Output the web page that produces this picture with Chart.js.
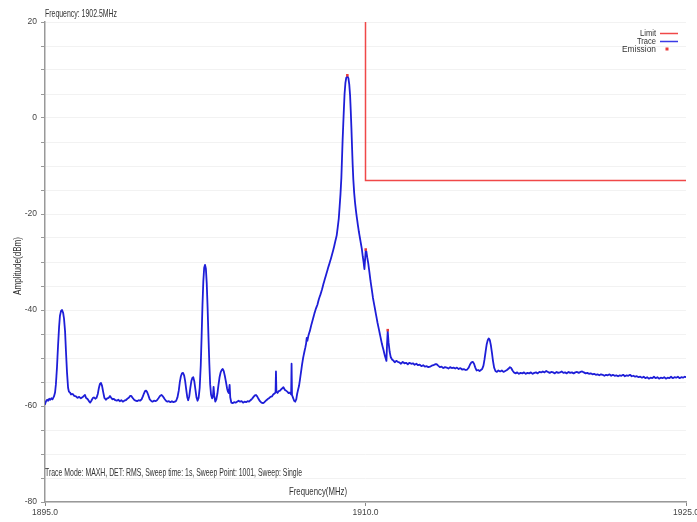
<!DOCTYPE html>
<html>
<head>
<meta charset="utf-8">
<script src="https://cdn.jsdelivr.net/npm/chart.js@4.4.1/dist/chart.umd.min.js"></script>
<style>
html,body{margin:0;padding:0;background:#fff;}
#wrap{width:697px;height:522px;position:relative;}
</style>
</head>
<body>
<div id="wrap"><canvas id="c" width="697" height="522"></canvas></div>
<script>
// ---- data ----
const traceFreq = [
1895.00,1895.05,1895.10,1895.15,1895.20,1895.25,1895.30,1895.35,1895.42,1895.47,1895.51,1895.56,1895.61,1895.66,1895.70,1895.75,1895.80,1895.85,1895.89,1895.94,1895.98,
1896.03,1896.08,1896.12,1896.17,1896.22,1896.30,1896.37,1896.45,1896.52,1896.60,1896.68,1896.75,1896.82,1896.87,1896.92,
1897.00,1897.06,1897.11,1897.17,1897.23,1897.29,1897.35,1897.41,1897.47,1897.52,1897.57,1897.62,1897.67,1897.72,1897.78,1897.85,1897.91,1897.98,
1898.04,1898.10,1898.16,1898.22,1898.29,1898.36,1898.43,1898.50,1898.57,1898.64,1898.71,1898.78,1898.85,1898.92,1898.98,
1899.04,1899.10,1899.17,1899.24,1899.31,1899.38,1899.45,1899.52,1899.58,1899.63,1899.68,1899.73,1899.78,1899.84,1899.90,1899.96,
1900.03,1900.10,1900.17,1900.24,1900.31,1900.38,1900.45,1900.52,1900.59,1900.66,1900.73,1900.80,1900.87,1900.94,
1901.01,1901.08,1901.14,1901.20,1901.26,1901.31,1901.36,1901.41,1901.46,1901.51,1901.56,1901.61,1901.66,1901.70,1901.75,1901.80,1901.85,1901.90,1901.94,1901.99,
1902.04,1902.09,1902.14,1902.19,1902.24,1902.29,1902.33,1902.37,1902.41,1902.45,1902.49,1902.53,1902.57,1902.61,1902.65,1902.69,1902.73,1902.77,1902.82,1902.86,1902.89,1902.92,1902.97,
1903.02,1903.07,1903.12,1903.17,1903.22,1903.27,1903.32,1903.37,1903.42,1903.47,1903.52,1903.56,1903.60,1903.64,1903.67,1903.72,1903.78,1903.85,1903.92,1903.99,
1904.06,1904.13,1904.20,1904.27,1904.34,1904.41,1904.48,1904.55,1904.62,1904.69,1904.76,1904.82,1904.87,1904.93,1904.99,
1905.06,1905.13,1905.20,1905.27,1905.34,1905.41,1905.48,1905.55,1905.62,1905.68,1905.74,1905.79,1905.81,1905.83,1905.88,1905.94,
1906.00,1906.06,1906.11,1906.16,1906.22,1906.28,1906.34,1906.40,1906.46,1906.52,1906.54,1906.56,1906.61,1906.66,1906.71,1906.76,1906.80,1906.85,1906.89,1906.93,1906.98,
1907.03,1907.08,1907.13,1907.18,1907.22,1907.25,1907.28,1907.33,1907.40,1907.47,1907.54,1907.61,1907.68,1907.75,1907.82,1907.89,1907.96,
1908.03,1908.10,1908.18,1908.25,1908.32,1908.38,1908.45,1908.52,1908.58,1908.65,1908.70,1908.75,1908.79,1908.83,1908.87,1908.90,1908.93,1908.96,1908.99,
1909.02,1909.06,1909.10,1909.15,1909.20,1909.24,1909.28,1909.31,1909.34,1909.37,1909.40,1909.43,1909.47,1909.51,1909.55,1909.59,1909.64,1909.69,1909.74,1909.79,1909.83,1909.87,1909.91,1909.95,1909.98,
1910.01,1910.04,1910.08,1910.13,1910.18,1910.23,1910.29,1910.35,1910.42,1910.49,1910.56,1910.63,1910.70,1910.77,1910.84,1910.91,1910.98,
1911.01,1911.04,1911.08,1911.13,1911.18,1911.24,1911.30,1911.37,1911.44,1911.51,1911.58,1911.66,1911.74,1911.82,1911.90,1911.98,
1912.06,1912.14,1912.22,1912.30,1912.38,1912.46,1912.54,1912.62,1912.70,1912.78,1912.86,1912.94,
1913.02,1913.10,1913.18,1913.26,1913.33,1913.40,1913.48,1913.56,1913.64,1913.72,1913.80,1913.88,1913.96,
1914.04,1914.12,1914.20,1914.28,1914.36,1914.44,1914.52,1914.60,1914.68,1914.76,1914.83,1914.90,1914.96,
1915.02,1915.08,1915.14,1915.20,1915.27,1915.34,1915.40,1915.46,1915.52,1915.57,1915.62,1915.67,1915.72,1915.77,1915.82,1915.87,1915.92,1915.97,
1916.02,1916.08,1916.15,1916.22,1916.30,1916.38,1916.46,1916.54,1916.62,1916.70,1916.76,1916.82,1916.88,1916.95,
1917.02,1917.10,1917.18,1917.26,1917.34,1917.42,1917.50,1917.58,1917.66,1917.74,1917.82,1917.90,1917.98,
1918.06,1918.14,1918.22,1918.30,1918.38,1918.46,1918.54,1918.62,1918.70,1918.78,1918.86,1918.94,
1919.02,1919.10,1919.18,1919.26,1919.34,1919.42,1919.50,1919.58,1919.66,1919.74,1919.82,1919.90,1919.98,
1920.06,1920.14,1920.22,1920.30,1920.38,1920.46,1920.54,1920.62,1920.70,1920.78,1920.86,1920.94,
1921.02,1921.10,1921.18,1921.26,1921.34,1921.42,1921.50,1921.58,1921.66,1921.74,1921.82,1921.90,1921.98,
1922.06,1922.14,1922.22,1922.30,1922.38,1922.46,1922.54,1922.62,1922.70,1922.78,1922.86,1922.94,
1923.02,1923.10,1923.18,1923.26,1923.34,1923.42,1923.50,1923.58,1923.66,1923.74,1923.82,1923.90,1923.98,
1924.06,1924.14,1924.22,1924.30,1924.38,1924.46,1924.54,1924.62,1924.70,1924.78,1924.86,1924.94,1925.00
];
const traceAmp = [
-59.6,-59.0,-58.7,-58.9,-58.5,-58.7,-58.4,-58.6,-58.0,-57.2,-55.5,-52.0,-47.5,-43.5,-41.2,-40.2,-40.0,-40.6,-41.8,-44.5,-48.5,
-53.0,-56.2,-57.0,-57.2,-57.6,-57.5,-57.9,-58.0,-58.3,-58.1,-58.4,-58.2,-57.9,-57.7,-58.3,
-58.6,-59.0,-59.3,-58.9,-58.4,-58.2,-58.5,-58.3,-57.5,-56.3,-55.4,-55.2,-55.8,-57.0,-58.3,-58.7,-58.4,-58.3,
-57.9,-58.3,-58.6,-58.5,-58.8,-58.9,-58.7,-59.0,-58.8,-59.1,-58.9,-58.8,-58.5,-58.3,-57.9,
-57.9,-58.3,-58.7,-58.9,-59.0,-58.8,-58.9,-58.6,-58.0,-57.4,-56.9,-56.8,-57.1,-57.8,-58.6,-58.9,
-59.1,-58.9,-59.0,-58.8,-58.4,-57.9,-57.7,-58.0,-58.5,-58.9,-59.1,-59.0,-59.2,-59.0,
-59.2,-59.1,-58.9,-58.2,-56.8,-55.0,-53.8,-53.2,-53.1,-53.6,-54.8,-56.6,-58.2,-58.8,-58.0,-56.3,-54.8,-54.1,-54.0,-54.9,
-56.6,-58.2,-58.9,-58.3,-56.2,-51.5,-45.5,-39.0,-34.0,-31.2,-30.6,-31.4,-34.5,-39.5,-45.5,-51.0,-55.5,-57.6,-58.4,-58.0,-56.0,-57.8,-59.1,
-58.6,-57.4,-55.6,-54.0,-53.0,-52.5,-52.3,-52.8,-53.8,-55.0,-56.3,-57.0,-57.3,-55.6,-58.2,-59.3,-59.4,-59.2,-59.3,-59.1,
-58.9,-59.1,-59.0,-59.3,-59.1,-59.2,-59.0,-59.1,-58.8,-58.5,-58.1,-57.8,-57.7,-58.0,-58.5,
-59.0,-59.3,-59.4,-59.2,-58.9,-58.6,-58.4,-58.1,-58.0,-57.6,-57.4,-57.2,-52.8,-57.0,-57.3,-56.9,
-56.8,-56.5,-56.3,-56.1,-56.6,-56.8,-57.0,-57.3,-57.2,-57.6,-51.2,-57.7,-58.3,-58.9,-59.1,-58.6,-57.5,-56.5,-55.8,-54.6,-53.0,
-51.4,-50.0,-48.9,-47.9,-47.0,-45.8,-46.4,-45.3,-44.3,-43.0,-41.9,-40.7,-39.7,-38.9,-37.7,-36.8,-35.8,
-34.6,-33.5,-32.3,-31.2,-30.2,-29.3,-28.2,-27.0,-25.8,-24.5,-22.8,-20.9,-18.4,-15.8,-12.5,-8.5,-4.5,-1.2,2.0,
5.0,7.3,8.4,8.7,8.3,7.0,4.6,1.5,-2.0,-6.0,-9.8,-12.8,-15.6,-17.6,-19.2,-20.6,-22.2,-23.7,-25.0,-26.3,-27.3,-28.8,-30.0,-31.5,-29.5,
-27.6,-27.8,-29.0,-30.3,-32.0,-33.8,-35.6,-37.5,-39.2,-40.9,-42.6,-44.1,-45.6,-47.1,-48.3,-49.6,-50.6,
-47.0,-44.4,-46.8,-48.7,-49.8,-50.3,-50.5,-50.9,-50.6,-50.8,-50.9,-51.2,-50.8,-51.1,-51.0,-51.3,
-51.0,-51.2,-51.1,-51.4,-51.2,-51.5,-51.4,-51.7,-51.5,-51.8,-51.7,-51.9,
-51.8,-51.6,-51.5,-51.3,-51.3,-51.6,-51.9,-51.8,-52.1,-51.9,-52.0,-52.2,-51.9,
-52.1,-52.0,-52.2,-52.0,-52.3,-52.1,-52.4,-52.3,-52.5,-52.4,-52.0,-51.3,-50.9,
-50.8,-51.2,-52.0,-52.6,-52.5,-52.7,-52.5,-52.3,-51.6,-50.3,-48.7,-47.2,-46.3,-45.9,-46.3,-47.4,-49.0,-50.7,
-52.0,-52.7,-52.9,-52.6,-52.8,-52.6,-52.9,-52.7,-52.5,-52.2,-51.9,-52.1,-52.6,-53.0,
-53.2,-53.0,-53.3,-53.1,-53.2,-53.0,-53.3,-53.1,-53.2,-53.0,-53.3,-53.1,-53.0,
-53.2,-52.9,-53.0,-52.8,-53.0,-52.7,-52.9,-53.1,-52.9,-53.0,-53.2,-52.9,
-53.1,-53.0,-52.8,-53.1,-53.0,-53.2,-52.9,-53.1,-53.0,-53.2,-53.0,-52.9,-53.1,
-52.9,-52.8,-53.0,-53.2,-53.1,-53.3,-53.2,-53.4,-53.3,-53.5,-53.4,-53.6,
-53.4,-53.5,-53.7,-53.5,-53.6,-53.4,-53.7,-53.5,-53.7,-53.6,-53.8,-53.6,-53.7,
-53.5,-53.8,-53.6,-53.7,-53.5,-53.8,-53.7,-53.9,-53.8,-54.0,-53.9,-54.1,
-53.9,-54.2,-54.0,-54.3,-54.1,-54.2,-53.9,-54.2,-54.0,-54.3,-54.1,-54.2,-54.0,
-54.3,-54.1,-54.2,-53.9,-54.2,-54.0,-54.1,-53.9,-54.2,-54.0,-54.1,-53.9,-54.0
];
const limitFreq = [1910.0, 1910.0, 1925.0];
const limitAmp  = [20.0, -13.0, -13.0];
const emissionFreq = [1909.15, 1910.01, 1911.04];
const emissionAmp  = [8.9, -27.4, -44.2];
const xTickValues = [1895, 1910, 1925];
const yLabelValues = [20, 0, -20, -40, -60, -80];
const headerText = 'Frequency: 1902.5MHz';
const footerText = 'Trace Mode: MAXH, DET: RMS, Sweep time: 1s, Sweep Point: 1001, Sweep: Single';
const xTitle = 'Frequency(MHz)';
const yTitle = 'Amplitude(dBm)';
const legendItems = ['Limit', 'Trace', 'Emission'];

// ---- styles ----
const FONT = "'Liberation Sans', Arial, sans-serif";
const TRACE_COLOR = '#1e1ed8';
const LIMIT_COLOR = '#f04848';
const EMIS_COLOR = '#e83a3a';

const zip = (xs, ys) => xs.map((x, i) => ({x: x, y: ys[i]}));

// draws condensed text: squeezes horizontally to the target width
function narrowText(ctx, text, x, y, align, targetW) {
  const w = ctx.measureText(text).width;
  const s = targetW ? Math.min(1, targetW / w) : 0.8;
  ctx.save();
  ctx.translate(x, y);
  ctx.scale(s, 1);
  ctx.textAlign = align;
  ctx.fillText(text, 0, 0);
  ctx.restore();
}

const textPlugin = {
  id: 'texts',
  afterDraw(chart) {
    const ctx = chart.ctx;
    const a = chart.chartArea;
    ctx.save();
    ctx.fillStyle = '#333';
    ctx.font = '10.5px ' + FONT;
    ctx.textBaseline = 'middle';
    narrowText(ctx, headerText, a.left, 14, 'left', 72);
    narrowText(ctx, footerText, a.left, 473, 'left', 257);
    narrowText(ctx, xTitle, 318, 492, 'center', 58);
    // y title (rotated)
    ctx.save();
    ctx.translate(18, 266);
    ctx.rotate(-Math.PI / 2);
    narrowText(ctx, yTitle, 0, 0, 'center', 58);
    ctx.restore();
    // legend
    ctx.font = '9.5px ' + FONT;
    const ys = [33, 41, 49];
    narrowText(ctx, legendItems[0], 656, ys[0], 'right', 16);
    narrowText(ctx, legendItems[1], 656, ys[1], 'right', 19);
    narrowText(ctx, legendItems[2], 656, ys[2], 'right', 34);
    ctx.lineWidth = 1.5;
    ctx.strokeStyle = LIMIT_COLOR;
    ctx.beginPath(); ctx.moveTo(660, ys[0] + 0.5); ctx.lineTo(678, ys[0] + 0.5); ctx.stroke();
    ctx.strokeStyle = '#3a3ae6';
    ctx.beginPath(); ctx.moveTo(660, ys[1] + 0.5); ctx.lineTo(678, ys[1] + 0.5); ctx.stroke();
    ctx.fillStyle = EMIS_COLOR;
    ctx.fillRect(665.5, ys[2] - 1.5, 3, 3);
    ctx.restore();
  }
};

new Chart(document.getElementById('c'), {
  type: 'scatter',
  data: {
    datasets: [
      {
        label: 'Limit',
        data: zip(limitFreq, limitAmp),
        showLine: true,
        borderColor: LIMIT_COLOR,
        borderWidth: 1.5,
        pointRadius: 0,
        order: 2
      },
      {
        label: 'Trace',
        data: zip(traceFreq, traceAmp),
        showLine: true,
        borderColor: TRACE_COLOR,
        borderWidth: 1.8,
        borderJoinStyle: 'round',
        borderCapStyle: 'round',
        pointRadius: 0,
        tension: 0.0001,
        order: 1
      },
      {
        label: 'Emission',
        data: zip(emissionFreq, emissionAmp),
        showLine: false,
        pointStyle: 'rect',
        pointRadius: 1.8,
        backgroundColor: EMIS_COLOR,
        borderColor: EMIS_COLOR,
        borderWidth: 0,
        order: 0
      }
    ]
  },
  options: {
    responsive: false,
    animation: false,
    devicePixelRatio: 1,
    layout: { autoPadding: false, padding: { top: 22, right: 11, left: 0, bottom: 0 } },
    plugins: { legend: { display: false }, tooltip: { enabled: false } },
    scales: {
      x: {
        type: 'linear',
        min: 1895, max: 1925,
        afterBuildTicks(scale) { scale.ticks = xTickValues.map(v => ({value: v})); },
        afterFit(scale) { scale.height = 20; scale.paddingLeft = 0; scale.paddingRight = 0; },
        ticks: {
          autoSkip: false, maxRotation: 0,
          font: { family: FONT, size: 8.5 },
          color: '#444',
          padding: 2,
          callback: v => Number(v).toFixed(1)
        },
        grid: { drawOnChartArea: false, color: '#888', tickLength: 4, tickColor: '#888' },
        border: { color: '#999', width: 1.5 }
      },
      y: {
        type: 'linear',
        min: -80, max: 20,
        afterFit(scale) { scale.width = 45; scale.paddingTop = 0; scale.paddingBottom = 0; },
        ticks: {
          stepSize: 5,
          autoSkip: false,
          font: { family: FONT, size: 8.5 },
          color: '#444',
          padding: 4,
          callback: v => (yLabelValues.includes(v) ? String(v) : '')
        },
        grid: { color: '#f2f2f2', tickLength: 4, tickColor: '#999', lineWidth: 1 },
        border: { color: '#999', width: 1.5 }
      }
    }
  },
  plugins: [textPlugin]
});
</script>
</body>
</html>
